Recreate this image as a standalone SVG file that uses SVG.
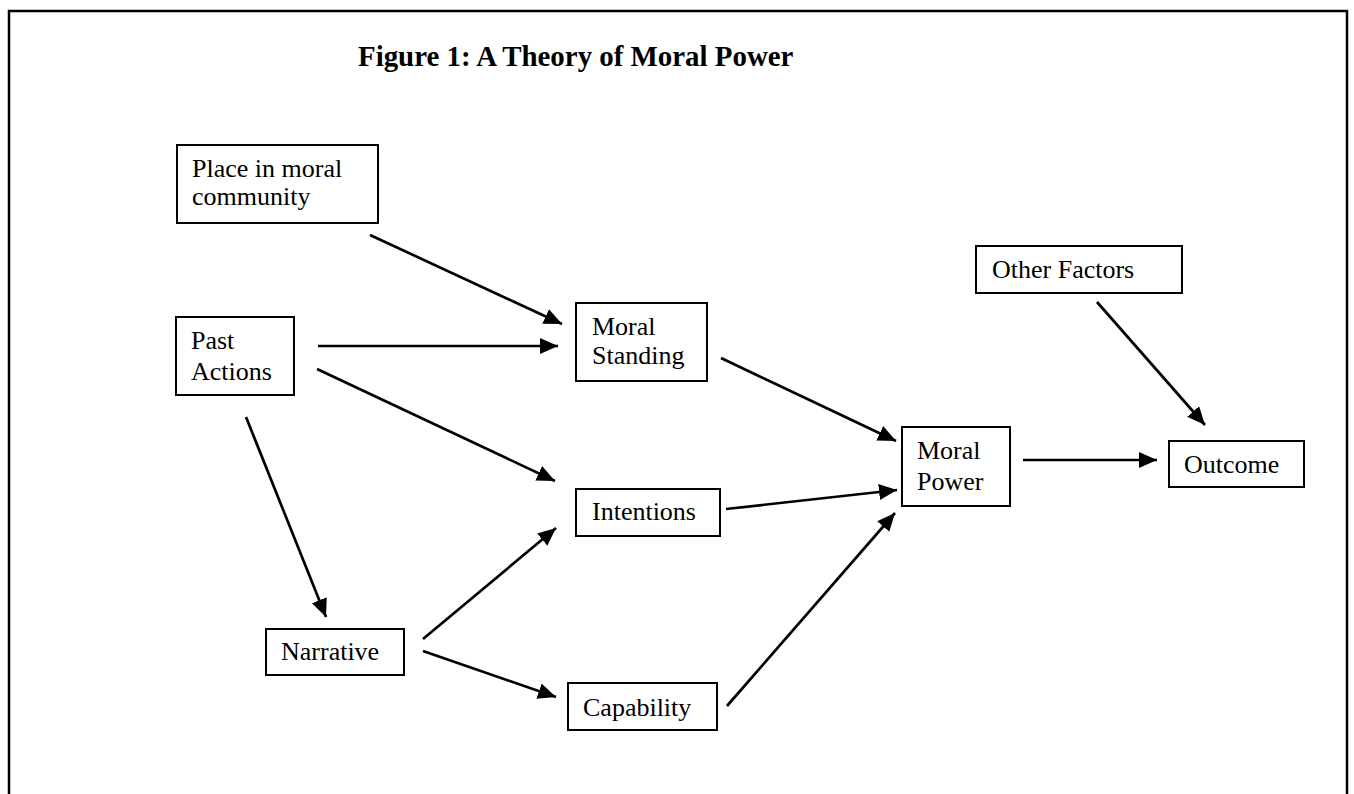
<svg xmlns="http://www.w3.org/2000/svg" width="1354" height="794" viewBox="0 0 1354 794">
<style>
.box{fill:#fff;stroke:#000;stroke-width:2}
.t{font-family:"Liberation Serif","Times New Roman",serif;font-size:26px;fill:#000}
.title{font-family:"Liberation Serif","Times New Roman",serif;font-size:28.9px;font-weight:bold;fill:#000}
.c line{stroke:#000;stroke-width:2.7;marker-end:url(#ah)}
</style>
<defs>
<marker id="ah" markerUnits="userSpaceOnUse" markerWidth="20" markerHeight="18" refX="18" refY="8" orient="auto">
<path d="M0,0 L18,8 L0,16 Z" fill="#000"/>
</marker>
</defs>
<rect x="0" y="0" width="1354" height="794" fill="#fff"/>
<rect x="9" y="11" width="1338" height="800" fill="none" stroke="#000" stroke-width="2.5"/>
<text class="title" x="358" y="66">Figure 1: A Theory of Moral Power</text>
<g class="c">
<line x1="370" y1="235" x2="562" y2="324"/>
<line x1="318" y1="346" x2="558" y2="346"/>
<line x1="317" y1="369" x2="555" y2="481"/>
<line x1="246" y1="417" x2="326" y2="617"/>
<line x1="423" y1="639" x2="556" y2="528"/>
<line x1="423" y1="651" x2="556" y2="697"/>
<line x1="721" y1="358" x2="896" y2="441"/>
<line x1="726" y1="509" x2="897" y2="490"/>
<line x1="727" y1="706" x2="895" y2="513"/>
<line x1="1023" y1="460" x2="1157" y2="460"/>
<line x1="1097" y1="302" x2="1205" y2="425"/>
</g>
<g id="place"><rect class="box" x="177" y="145" width="201" height="78"/><text class="t" x="192" y="177">Place in moral</text><text class="t" x="192" y="205">community</text></g>
<g id="past"><rect class="box" x="176" y="317" width="118" height="78"/><text class="t" x="191" y="349">Past</text><text class="t" x="191" y="380">Actions</text></g>
<g id="standing"><rect class="box" x="576" y="303" width="131" height="78"/><text class="t" x="592" y="335">Moral</text><text class="t" x="592" y="364">Standing</text></g>
<g id="intentions"><rect class="box" x="576" y="489" width="144" height="47"/><text class="t" x="592" y="520">Intentions</text></g>
<g id="narrative"><rect class="box" x="266" y="629" width="138" height="46"/><text class="t" x="281" y="660">Narrative</text></g>
<g id="capability"><rect class="box" x="568" y="683" width="149" height="47"/><text class="t" x="583" y="716">Capability</text></g>
<g id="power"><rect class="box" x="902" y="427" width="108" height="79"/><text class="t" x="917" y="459">Moral</text><text class="t" x="917" y="490">Power</text></g>
<g id="other"><rect class="box" x="976" y="246" width="206" height="47"/><text class="t" x="992" y="278">Other Factors</text></g>
<g id="outcome"><rect class="box" x="1169" y="441" width="135" height="46"/><text class="t" x="1184" y="473">Outcome</text></g>
</svg>
